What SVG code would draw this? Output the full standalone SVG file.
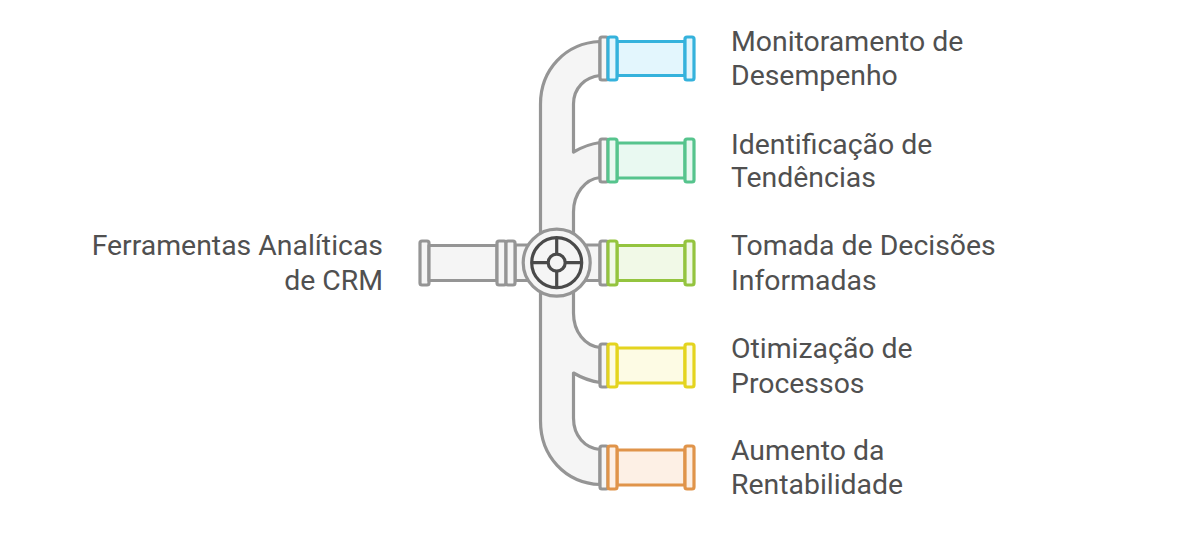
<svg xmlns="http://www.w3.org/2000/svg" width="1200" height="533" viewBox="0 0 1200 533">
<style>
text{font-family:Roboto,"Liberation Sans",sans-serif;font-size:28.400px;fill:#505050}
.g{fill:#f5f5f5;stroke:#959595;stroke-width:3.2;stroke-linejoin:round}
.b{stroke:#35b2dc;fill:#e3f6fd;stroke-width:3.2;stroke-linejoin:round}
.t{stroke:#56c48d;fill:#e9f9f1;stroke-width:3.2;stroke-linejoin:round}
.l{stroke:#94c43f;fill:#f1f9e7;stroke-width:3.2;stroke-linejoin:round}
.y{stroke:#e4d41f;fill:#fdfbe4;stroke-width:3.2;stroke-linejoin:round}
.o{stroke:#e0944a;fill:#fdf0e5;stroke-width:3.2;stroke-linejoin:round}
.d{fill:none;stroke:#4a4a4a;stroke-width:3.2}
</style>
<g id="connectors">
<path class="g" d="M600 41.500C565 43 540.500 70 540.500 104V421C540.500 456 565 483 600 484.500V449.500C585 448 573.500 436 573.500 418V373C582 378 590 381 600 382.500V347.500C585 346 573.500 332 573.500 313V212C573.500 194 585 179 600 177.500V142.500C590 144 582 147 573.500 152V104C573.500 88 585 77 600 75.500Z"/>
<path class="g" d="M515 245H600V280.500H515Z"/>
</g>
<g id="source">
<rect class="g" x="420" y="241" width="9" height="44" rx="2"/>
<rect class="g" x="429" y="245.500" width="68" height="35"/>
<rect class="g" x="497" y="241" width="9" height="44" rx="2"/>
<rect class="g" x="506" y="241" width="9" height="44" rx="2"/>
<text x="383" y="255" text-anchor="end">Ferramentas Analíticas</text>
<text x="383" y="290" text-anchor="end">de CRM</text>
</g>
<g id="valve">
<circle class="g" cx="556.700" cy="262.700" r="33.500"/>
<circle class="d" cx="556.700" cy="262.700" r="25"/>
<path class="d" d="M556.700 237.700V254M556.700 271.500V287.700M531.700 262.700H548M565.500 262.700H581.700"/>
<circle class="d" cx="556.700" cy="262.700" r="8.500"/>
</g>
<g id="branch-1">
<rect class="g" x="600" y="37" width="8" height="43" rx="2"/>
<rect class="b" x="617" y="41.500" width="68" height="34"/>
<rect class="b" x="608" y="37" width="9" height="43" rx="2"/>
<rect class="b" x="685" y="37" width="9" height="43" rx="2"/>
<text x="731" y="51">Monitoramento de</text>
<text x="731" y="85">Desempenho</text>
</g>
<g id="branch-2">
<rect class="g" x="600" y="139" width="8" height="43" rx="2"/>
<rect class="t" x="617" y="143" width="68" height="35"/>
<rect class="t" x="608" y="139" width="9" height="43" rx="2"/>
<rect class="t" x="685" y="139" width="9" height="43" rx="2"/>
<text x="731" y="154">Identificação de</text>
<text x="731" y="187">Tendências</text>
</g>
<g id="branch-3">
<rect class="g" x="600" y="241" width="8" height="44" rx="2"/>
<rect class="l" x="617" y="245.500" width="68" height="35"/>
<rect class="l" x="608" y="241" width="9" height="44" rx="2"/>
<rect class="l" x="685" y="241" width="9" height="44" rx="2"/>
<text x="731" y="255">Tomada de Decisões</text>
<text x="731" y="290">Informadas</text>
</g>
<g id="branch-4">
<rect class="g" x="600" y="344" width="8" height="43" rx="2"/>
<rect class="y" x="617" y="348" width="68" height="35"/>
<rect class="y" x="608" y="344" width="9" height="43" rx="2"/>
<rect class="y" x="685" y="344" width="9" height="43" rx="2"/>
<text x="731" y="358">Otimização de</text>
<text x="731" y="393">Processos</text>
</g>
<g id="branch-5">
<rect class="g" x="600" y="446" width="8" height="43" rx="2"/>
<rect class="o" x="617" y="450" width="68" height="35"/>
<rect class="o" x="608" y="446" width="9" height="43" rx="2"/>
<rect class="o" x="685" y="446" width="9" height="43" rx="2"/>
<text x="731" y="460">Aumento da</text>
<text x="731" y="494">Rentabilidade</text>
</g>
</svg>
